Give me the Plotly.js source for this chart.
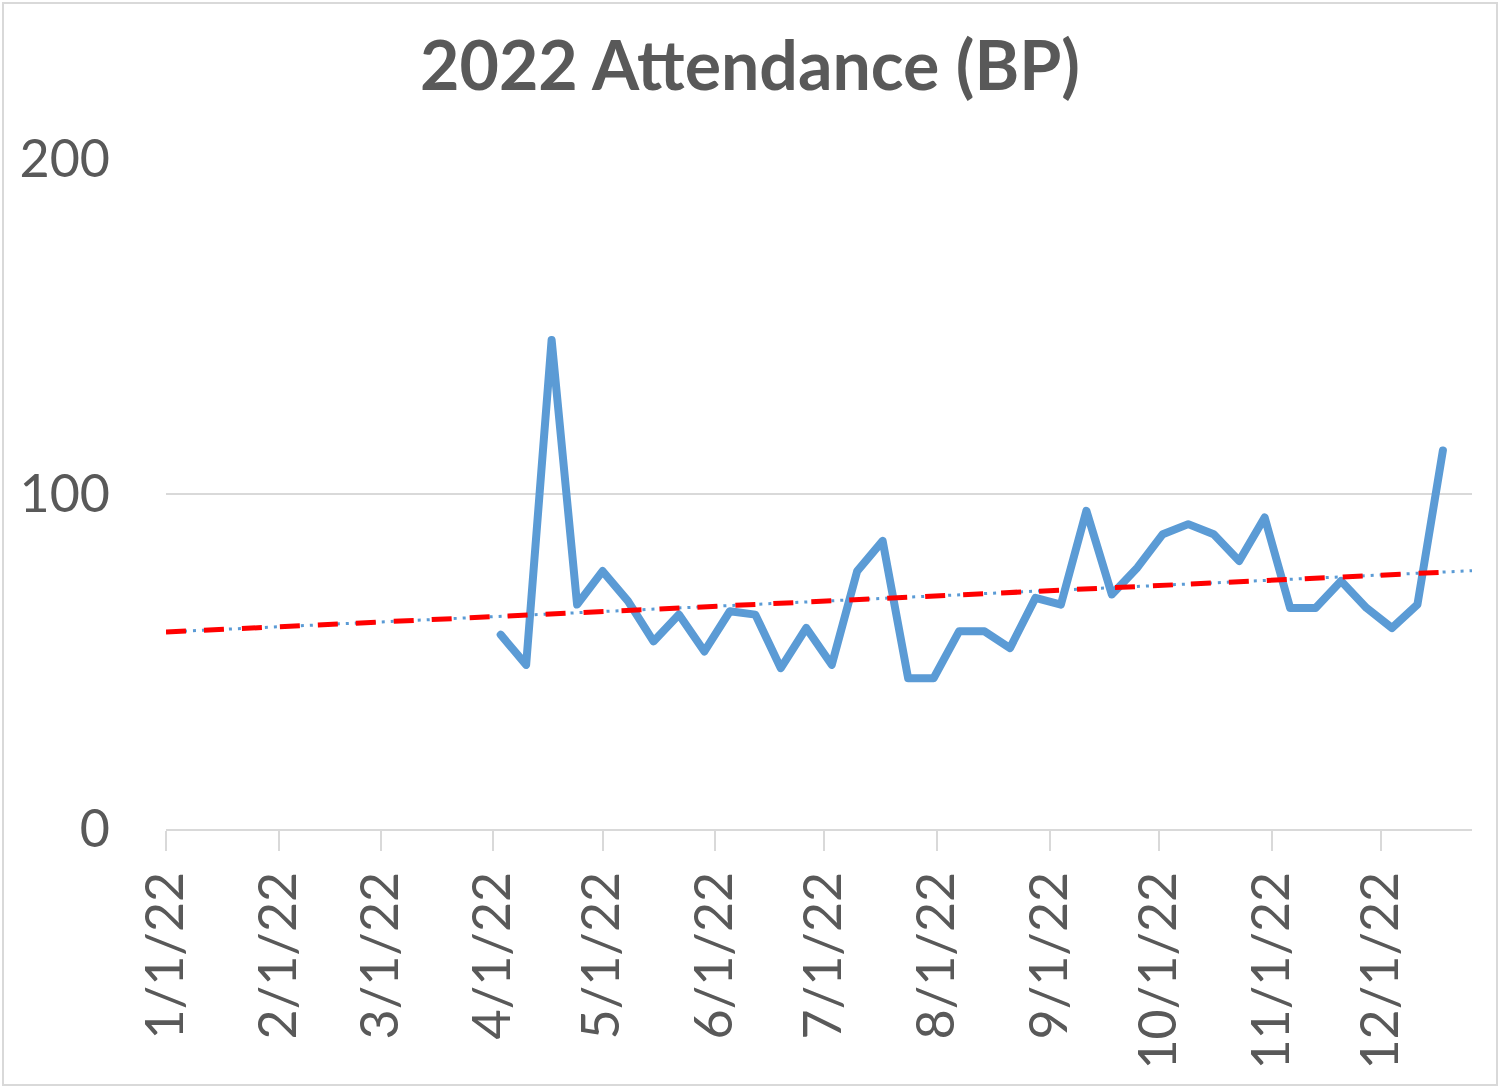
<!DOCTYPE html>
<html>
<head>
<meta charset="utf-8">
<script src="https://cdn.plot.ly/plotly-3.0.1.min.js"></script>
<style>
  body { margin: 0; background: #fff; }
  #chart { width: 1500px; height: 1089px; }
  #frame { position: absolute; left: 2px; top: 2px; width: 1492px; height: 1080px;
           border: 2px solid #d9d9d9; pointer-events: none; }
  /* round joins and ends on the attendance line only */
  .scatterlayer .trace:first-child path.js-line { stroke-linejoin: round; stroke-linecap: round; }
</style>
</head>
<body>
<div id="chart"></div>
<div id="frame"></div>
<script>
// weekly attendance, 2022
var weeks = [
    '2022-04-03', '2022-04-10', '2022-04-17', '2022-04-24', '2022-05-01', '2022-05-08',
    '2022-05-15', '2022-05-22', '2022-05-29', '2022-06-05', '2022-06-12', '2022-06-19',
    '2022-06-26', '2022-07-03', '2022-07-10', '2022-07-17', '2022-07-24', '2022-07-31',
    '2022-08-07', '2022-08-14', '2022-08-21', '2022-08-28', '2022-09-04', '2022-09-11',
    '2022-09-18', '2022-09-25', '2022-10-02', '2022-10-09', '2022-10-16', '2022-10-23',
    '2022-10-30', '2022-11-06', '2022-11-13', '2022-11-20', '2022-11-27', '2022-12-04',
    '2022-12-11', '2022-12-18'
];
var attendance = [
    58, 49, 146, 67, 77, 68,
    56, 64, 53, 65, 64, 48,
    60, 49, 77, 86, 45, 45,
    59, 59, 54, 69, 67, 95,
    70, 78, 88, 91, 88, 80,
    93, 66, 66, 74, 66, 60,
    67, 113
];

// trend line ends
var trendDates = ['2022-01-01', '2022-12-26'];
var trendValues = [58.8, 77.1];
var redDates = ['2022-01-01', '2022-12-21'];
var redValues = [58.8, 76.8];

var monthTicks = ['2022-01-01', '2022-02-01', '2022-03-01', '2022-04-01', '2022-05-01', '2022-06-01',
                  '2022-07-01', '2022-08-01', '2022-09-01', '2022-10-01', '2022-11-01', '2022-12-01'];
var monthLabels = ['1/1/22', '2/1/22', '3/1/22', '4/1/22', '5/1/22', '6/1/22',
                   '7/1/22', '8/1/22', '9/1/22', '10/1/22', '11/1/22', '12/1/22'];

var grey = '#595959';
var font = 'Lato, "Open Sans", sans-serif';

var data = [
    {
        type: 'scatter', mode: 'lines',
        x: weeks, y: attendance,
        line: { color: '#5b9bd5', width: 8 },
        hoverinfo: 'x+y'
    },
    {
        type: 'scatter', mode: 'lines',
        x: trendDates, y: trendValues,
        line: { color: '#5b9bd5', width: 3, dash: '3px,6px' },
        hoverinfo: 'skip'
    },
    {
        type: 'scatter', mode: 'lines',
        x: redDates, y: redValues,
        line: { color: '#ff0000', width: 5, dash: '20px,18px' },
        hoverinfo: 'skip'
    }
];

var layout = {
    width: 1500,
    height: 1089,
    showlegend: false,
    margin: { l: 166, r: 28, t: 159, b: 260 },
    paper_bgcolor: '#fff',
    plot_bgcolor: '#fff',
    title: {
        text: '<b>2022 Attendance (BP)</b>',
        font: { family: font, size: 68, color: grey },
        x: 0.5, xref: 'container',
        y: 1 - 66 / 1089, yref: 'container', yanchor: 'middle'
    },
    xaxis: {
        type: 'date',
        range: ['2022-01-01', '2022-12-26'],
        tickmode: 'array',
        tickvals: monthTicks,
        ticktext: monthLabels,
        tickangle: -90,
        ticks: 'outside', ticklen: 20, tickwidth: 2, tickcolor: '#d9d9d9',
        ticklabelstandoff: 0,
        showgrid: false,
        showline: true, linecolor: '#d9d9d9', linewidth: 2,
        zeroline: false,
        tickfont: { family: font, size: 52, color: grey }
    },
    yaxis: {
        range: [0, 200],
        tickvals: [0, 100, 200],
        ticks: '',
        ticklabelstandoff: 55,
        showgrid: true, gridcolor: '#d9d9d9', gridwidth: 2,
        zeroline: false,
        showline: false,
        tickfont: { family: font, size: 52, color: grey }
    }
};

Plotly.newPlot('chart', data, layout, { displayModeBar: false });
</script>
</body>
</html>
